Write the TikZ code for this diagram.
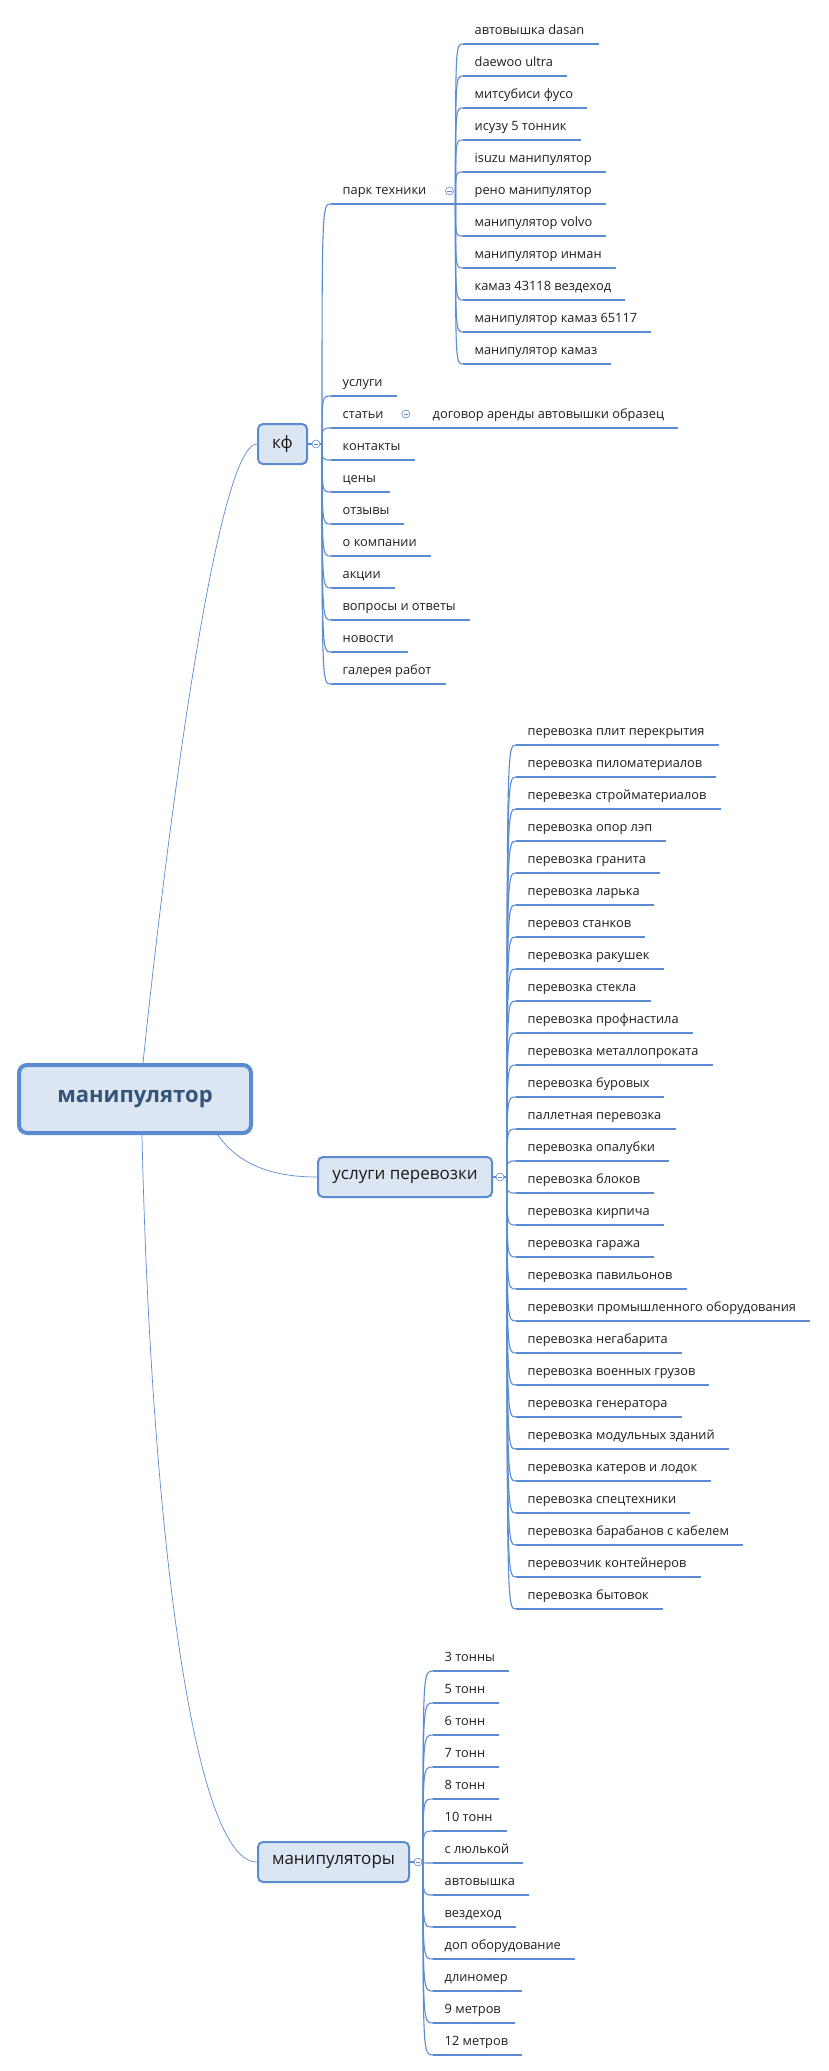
\documentclass[tikz,border=0pt]{standalone}
\usepackage{fontspec}
\setmainfont{Open Sans}
\definecolor{lineblue}{HTML}{5B8BD0}
\definecolor{connc}{HTML}{5B8BD0}
\definecolor{boxfill}{HTML}{DCE6F2}
\definecolor{leafc}{HTML}{1F1F1F}
\definecolor{rootc}{HTML}{34547A}
\tikzset{
  leaf/.style={anchor=south west, inner xsep=11.5pt, inner ysep=0pt,
    text height=10pt, text depth=9pt, text=leafc,
    font=\fontsize{12.8}{14}\selectfont,
    execute at end node={\kern2.5pt},
    append after command={(\tikzlastnode.south west) edge[uline] (\tikzlastnode.south east)}},
  uline/.style={draw=lineblue, line width=2.6pt},
  conn/.style={draw=connc, line width=1.1pt},
  rootconn/.style={draw=connc, line width=0.7pt},
  topic/.style={rectangle, rounded corners=5pt, draw=lineblue, line width=2pt,
    fill=boxfill, text=leafc!85!black, minimum height=40pt, inner sep=0pt,
    font=\fontsize{17}{20}\selectfont},
  rootbox/.style={rectangle, rounded corners=8pt, draw=lineblue, line width=4pt,
    fill=boxfill, text=rootc, minimum width=232pt, minimum height=68pt, inner sep=0pt,
    font=\fontsize{22}{26}\selectfont\bfseries},
  coll/.style={circle, draw=connc, fill=white, line width=0.6pt, minimum size=8pt, inner sep=0pt,
    path picture={\draw[connc, line width=0.6pt]
      ([xshift=-2.2pt]path picture bounding box.center) -- ([xshift=2.2pt]path picture bounding box.center);}}
}
\begin{document}
\begin{tikzpicture}[x=1pt,y=-1pt]
\useasboundingbox[fill=white] (0,0) rectangle (829,2071);

% main topics
\node[rootbox] (root) at (135,1099) {манипулятор};
\node[topic, minimum width=49pt] (kf) at (282.5,444) {кф};
\node[topic, minimum width=174pt] (up) at (405,1177) {услуги перевозки};
\node[topic, minimum width=151pt] (man) at (333.5,1862) {манипуляторы};

% children of kf
\node[leaf] (pt) at (331,204) {парк техники};
\node[leaf] (k1) at (331,396) {услуги};
\node[leaf] (k2) at (331,428) {статьи};
\node[leaf] (k3) at (331,460) {контакты};
\node[leaf] (k4) at (331,492) {цены};
\node[leaf] (k5) at (331,524) {отзывы};
\node[leaf] (k6) at (331,556) {о компании};
\node[leaf] (k7) at (331,588) {акции};
\node[leaf] (k8) at (331,620) {вопросы и ответы};
\node[leaf] (k9) at (331,652) {новости};
\node[leaf] (k10) at (331,684) {галерея работ};
\node[leaf] (dog) at (421,428) {договор аренды автовышки образец};

% children of park tekhniki
\node[leaf] (p1) at (463,44) {автовышка dasan};
\node[leaf] (p2) at (463,76) {daewoo ultra};
\node[leaf] (p3) at (463,108) {митсубиси фусо};
\node[leaf] (p4) at (463,140) {исузу 5 тонник};
\node[leaf] (p5) at (463,172) {isuzu манипулятор};
\node[leaf] (p6) at (463,204) {рено манипулятор};
\node[leaf] (p7) at (463,236) {манипулятор volvo};
\node[leaf] (p8) at (463,268) {манипулятор инман};
\node[leaf] (p9) at (463,300) {камаз 43118 вездеход};
\node[leaf] (p10) at (463,332) {манипулятор камаз 65117};
\node[leaf] (p11) at (463,364) {манипулятор камаз};

% children of uslugi perevozki
\node[leaf] (u1) at (516,745) {перевозка плит перекрытия};
\node[leaf] (u2) at (516,777) {перевозка пиломатериалов};
\node[leaf] (u3) at (516,809) {перевезка стройматериалов};
\node[leaf] (u4) at (516,841) {перевозка опор лэп};
\node[leaf] (u5) at (516,873) {перевозка гранита};
\node[leaf] (u6) at (516,905) {перевозка ларька};
\node[leaf] (u7) at (516,937) {перевоз станков};
\node[leaf] (u8) at (516,969) {перевозка ракушек};
\node[leaf] (u9) at (516,1001) {перевозка стекла};
\node[leaf] (u10) at (516,1033) {перевозка профнастила};
\node[leaf] (u11) at (516,1065) {перевозка металлопроката};
\node[leaf] (u12) at (516,1097) {перевозка буровых};
\node[leaf] (u13) at (516,1129) {паллетная перевозка};
\node[leaf] (u14) at (516,1161) {перевозка опалубки};
\node[leaf] (u15) at (516,1193) {перевозка блоков};
\node[leaf] (u16) at (516,1225) {перевозка кирпича};
\node[leaf] (u17) at (516,1257) {перевозка гаража};
\node[leaf] (u18) at (516,1289) {перевозка павильонов};
\node[leaf] (u19) at (516,1321) {перевозки промышленного оборудования};
\node[leaf] (u20) at (516,1353) {перевозка негабарита};
\node[leaf] (u21) at (516,1385) {перевозка военных грузов};
\node[leaf] (u22) at (516,1417) {перевозка генератора};
\node[leaf] (u23) at (516,1449) {перевозка модульных зданий};
\node[leaf] (u24) at (516,1481) {перевозка катеров и лодок};
\node[leaf] (u25) at (516,1513) {перевозка спецтехники};
\node[leaf] (u26) at (516,1545) {перевозка барабанов с кабелем};
\node[leaf] (u27) at (516,1577) {перевозчик контейнеров};
\node[leaf] (u28) at (516,1609) {перевозка бытовок};

% children of manipulyatory
\node[leaf] (m1) at (433,1671) {3 тонны};
\node[leaf] (m2) at (433,1703) {5 тонн};
\node[leaf] (m3) at (433,1735) {6 тонн};
\node[leaf] (m4) at (433,1767) {7 тонн};
\node[leaf] (m5) at (433,1799) {8 тонн};
\node[leaf] (m6) at (433,1831) {10 тонн};
\node[leaf] (m7) at (433,1863) {с люлькой};
\node[leaf] (m8) at (433,1895) {автовышка};
\node[leaf] (m9) at (433,1927) {вездеход};
\node[leaf] (m10) at (433,1959) {доп оборудование};
\node[leaf] (m11) at (433,1991) {длиномер};
\node[leaf] (m12) at (433,2023) {9 метров};
\node[leaf] (m13) at (433,2055) {12 метров};

% root connectors
\draw[rootconn] ([xshift=8pt]root.north) .. controls (165,850) and (216,444) .. (kf.west);
\draw[rootconn] ([xshift=83pt]root.south) .. controls (235,1160) and (265,1177) .. (up.west);
\draw[rootconn] ([xshift=7pt]root.south) .. controls (150,1500) and (190,1862) .. (man.west);

% spine points
\coordinate (kfS) at ([xshift=14pt]kf.east);
\coordinate (ptS) at ([xshift=15pt]pt.south east);
\coordinate (upS) at ([xshift=14pt]up.east);
\coordinate (manS) at ([xshift=13pt]man.east);

\foreach \c in {pt,k1,k2,k3,k4,k5,k6,k7,k8,k9,k10}
  \draw[conn] (kf.east) -- (kfS) .. controls (kfS |- \c.south west) and (kfS |- \c.south west) .. (\c.south west);
\foreach \c in {p1,p2,p3,p4,p5,p6,p7,p8,p9,p10,p11}
  \draw[conn] (pt.south east) -- (ptS) .. controls (ptS |- \c.south west) and (ptS |- \c.south west) .. (\c.south west);
\foreach \c in {u1,u2,u3,u4,u5,u6,u7,u8,u9,u10,u11,u12,u13,u14,u15,u16,u17,u18,u19,u20,u21,u22,u23,u24,u25,u26,u27,u28}
  \draw[conn] (up.east) -- (upS) .. controls (upS |- \c.south west) and (upS |- \c.south west) .. (\c.south west);
\foreach \c in {m1,m2,m3,m4,m5,m6,m7,m8,m9,m10,m11,m12,m13}
  \draw[conn] (man.east) -- (manS) .. controls (manS |- \c.south west) and (manS |- \c.south west) .. (\c.south west);
\draw[conn] (k2.south east) -- (dog.south west);

% collapse markers
\node[coll] (kfC) at ([xshift=8pt]kf.east) {};
\node[coll] (upC) at ([xshift=7pt]up.east) {};
\node[coll] (manC) at ([xshift=8pt]man.east) {};
\node[coll] (ptC) at ([xshift=9pt,yshift=13pt]pt.south east) {};
\node[coll] (k2C) at ([xshift=8pt,yshift=14pt]k2.south east) {};
\end{tikzpicture}
\end{document}
